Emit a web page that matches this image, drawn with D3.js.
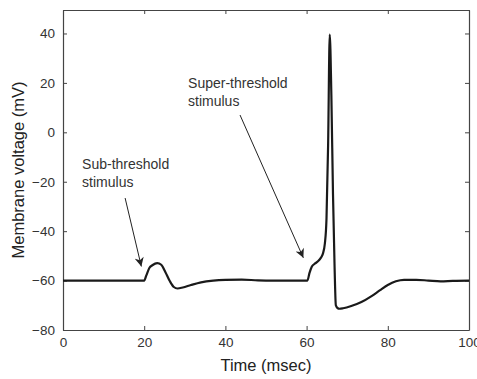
<!DOCTYPE html>
<html>
<head>
<meta charset="utf-8">
<script src="https://cdn.jsdelivr.net/npm/d3@7"></script>
<style>
  body { margin: 0; background: #fff; }
  svg { display: block; font-family: "Liberation Sans", Arial, sans-serif; }
  .axis path, .axis line { stroke: #444; }
  .axis text { fill: #333; font-size: 13.5px; }
</style>
</head>
<body>
<div id="chart"></div>
<script>
// time (msec) and membrane voltage (mV)
const timeMs = [0, 20, 20.5, 21.3, 22, 23.2, 24.2, 25.2, 26.3, 27.3, 28.2, 29.5, 31.5, 34, 37, 40, 44, 48, 52,
  60.2, 60.7, 61.3, 62, 62.8, 63.5, 64, 64.5, 64.9, 65.3, 65.7, 66.1, 66.5, 66.9, 67.2, 67.6, 68.1, 69, 71,
  73.5, 76, 78, 80, 82, 84, 87, 90, 93, 96, 100];
const voltage = [-60, -60, -58, -54.8, -53.8, -52.9, -53.6, -56.5, -60.2, -62.6, -63.2, -62.8, -61.8, -60.7, -60, -59.7, -59.6, -59.9, -60,
  -60, -57, -54.3, -53.2, -52.2, -50.8, -49.2, -45, -35, -5, 39.5, 15, -25, -55, -70, -71.1, -71.4, -71.2, -70.3,
  -68.7, -66.3, -64, -61.8, -60.3, -59.7, -59.7, -60, -60.3, -60.1, -60];

const xTicks = [0, 20, 40, 60, 80, 100];
const yTicks = [-80, -60, -40, -20, 0, 20, 40];

const notes = [
  { lines: ["Sub-threshold", "stimulus"], at: [4.7, -14.8], from: [15.3, -26.6], to: [19.3, -54.3] },
  { lines: ["Super-threshold", "stimulus"], at: [30.8, 17.9], from: [43.6, 7], to: [59.2, -50.8] }
];

const width = 477, height = 379;
const margin = {top: 10, right: 8, bottom: 49, left: 63};

const svg = d3.select("#chart").append("svg")
  .attr("width", width)
  .attr("height", height);

const x = d3.scaleLinear().domain([0, 100]).range([margin.left, width - margin.right]);
const y = d3.scaleLinear().domain([-80, 49.5]).range([height - margin.bottom, margin.top]);

svg.append("defs").append("marker")
  .attr("id", "head")
  .attr("viewBox", "0 0 10 10")
  .attr("refX", 10).attr("refY", 5)
  .attr("markerWidth", 11).attr("markerHeight", 9)
  .attr("markerUnits", "userSpaceOnUse")
  .attr("orient", "auto")
  .append("path")
  .attr("d", "M0,0 L10,5 L0,10 L3,5 Z")
  .attr("fill", "#222");

// frame + inward ticks on all four sides
svg.append("g").attr("class", "axis")
  .attr("transform", `translate(0,${y(-80)})`)
  .call(d3.axisBottom(x).tickValues(xTicks).tickSize(-4).tickPadding(7).tickSizeOuter(0));
svg.append("g").attr("class", "axis")
  .attr("transform", `translate(0,${y(49.5)})`)
  .call(d3.axisTop(x).tickValues(xTicks).tickSize(-4).tickFormat("").tickSizeOuter(0));
svg.append("g").attr("class", "axis")
  .attr("transform", `translate(${x(0)},0)`)
  .call(d3.axisLeft(y).tickValues(yTicks).tickSize(-4).tickPadding(8).tickSizeOuter(0)
    .tickFormat(d => d < 0 ? "\u2212" + Math.abs(d) : d));
svg.append("g").attr("class", "axis")
  .attr("transform", `translate(${x(100)},0)`)
  .call(d3.axisRight(y).tickValues(yTicks).tickSize(-4).tickFormat("").tickSizeOuter(0));

svg.selectAll(".axis .domain").attr("stroke-width", 1.2);

const line = d3.line()
  .x((d, i) => x(timeMs[i]))
  .y(d => y(d))
  .curve(d3.curveMonotoneX);

svg.append("path")
  .datum(voltage)
  .attr("fill", "none")
  .attr("stroke", "#1a1a1a")
  .attr("stroke-width", 2.2)
  .attr("stroke-linejoin", "round")
  .attr("d", line);

// annotations
notes.forEach(n => {
  const t = svg.append("text")
    .attr("x", x(n.at[0]))
    .attr("y", y(n.at[1]))
    .attr("fill", "#333")
    .style("font-size", "14px");
  n.lines.forEach((s, i) => {
    t.append("tspan").attr("x", x(n.at[0])).attr("dy", i ? 18 : 0).text(s);
  });
  svg.append("line")
    .attr("x1", x(n.from[0])).attr("y1", y(n.from[1]))
    .attr("x2", x(n.to[0])).attr("y2", y(n.to[1]))
    .attr("stroke", "#222")
    .attr("stroke-width", 1)
    .attr("marker-end", "url(#head)");
});

svg.append("text")
  .attr("x", (x(0) + x(100)) / 2)
  .attr("y", 371)
  .attr("text-anchor", "middle")
  .attr("fill", "#222")
  .style("font-size", "16.5px")
  .text("Time (msec)");

svg.append("text")
  .attr("transform", `translate(24,${(y(-80) + y(49.5)) / 2}) rotate(-90)`)
  .attr("text-anchor", "middle")
  .attr("fill", "#222")
  .style("font-size", "16.5px")
  .text("Membrane voltage (mV)");
</script>
</body>
</html>
